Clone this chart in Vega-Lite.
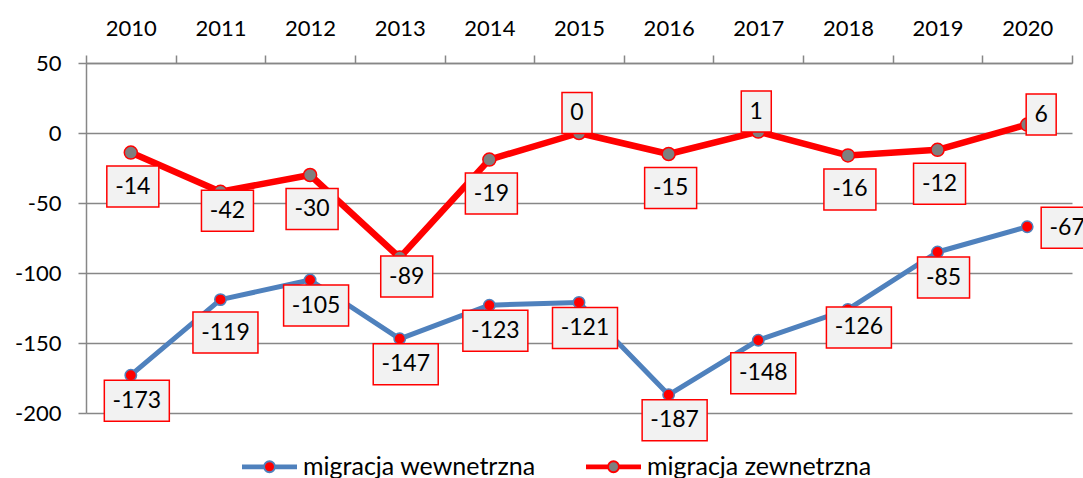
{
  "$schema": "https://vega.github.io/schema/vega-lite/v6.json",
  "autosize": {"type": "none"},
  "padding": {"left": 86, "top": 63, "right": 11, "bottom": 65},
  "width": 986,
  "height": 350,
  "config": {
    "view": {"stroke": null},
    "font": "Lato",
    "axis": {"labelFont": "Lato", "labelColor": "#000000", "labelFontSize": 22, "domainColor": "#878787", "tickColor": "#878787", "gridColor": "#878787", "domainWidth": 1.5, "tickWidth": 1.5, "gridWidth": 1.3, "tickSize": 8}
  },
  "data": {"values": [
    {"year": "2010", "s": "migracja wewnetrzna", "v": -173},
    {"year": "2011", "s": "migracja wewnetrzna", "v": -119},
    {"year": "2012", "s": "migracja wewnetrzna", "v": -105},
    {"year": "2013", "s": "migracja wewnetrzna", "v": -147},
    {"year": "2014", "s": "migracja wewnetrzna", "v": -123},
    {"year": "2015", "s": "migracja wewnetrzna", "v": -121},
    {"year": "2016", "s": "migracja wewnetrzna", "v": -187},
    {"year": "2017", "s": "migracja wewnetrzna", "v": -148},
    {"year": "2018", "s": "migracja wewnetrzna", "v": -126},
    {"year": "2019", "s": "migracja wewnetrzna", "v": -85},
    {"year": "2020", "s": "migracja wewnetrzna", "v": -67},
    {"year": "2010", "s": "migracja zewnetrzna", "v": -14},
    {"year": "2011", "s": "migracja zewnetrzna", "v": -42},
    {"year": "2012", "s": "migracja zewnetrzna", "v": -30},
    {"year": "2013", "s": "migracja zewnetrzna", "v": -89},
    {"year": "2014", "s": "migracja zewnetrzna", "v": -19},
    {"year": "2015", "s": "migracja zewnetrzna", "v": 0},
    {"year": "2016", "s": "migracja zewnetrzna", "v": -15},
    {"year": "2017", "s": "migracja zewnetrzna", "v": 1},
    {"year": "2018", "s": "migracja zewnetrzna", "v": -16},
    {"year": "2019", "s": "migracja zewnetrzna", "v": -12},
    {"year": "2020", "s": "migracja zewnetrzna", "v": 6}
  ]},
  "encoding": {
    "x": {"field": "year", "type": "ordinal", "bandPosition": 0.5,
      "scale": {"type": "band", "paddingInner": 0, "paddingOuter": 0},
      "axis": {"orient": "top", "title": null, "labelAngle": 0, "tickBand": "extent", "grid": false, "labelPadding": 15}},
    "y": {"field": "v", "type": "quantitative",
      "scale": {"domain": [-200, 50], "nice": false, "zero": false},
      "axis": {"title": null, "values": [-200, -150, -100, -50, 0, 50], "grid": true, "labelPadding": 17, "labelExpr": "'' + datum.value"}}
  },
  "layer": [
    {
      "mark": {"type": "line", "strokeJoin": "round"},
      "encoding": {
        "stroke": {"field": "s", "type": "nominal",
          "scale": {"domain": ["migracja wewnetrzna", "migracja zewnetrzna"], "range": ["#4f81bd", "#ff0000"]},
          "legend": {"title": null, "orient": "none", "legendX": 155, "legendY": 375, "direction": "horizontal",
            "symbolType": "M-1,-0.05L-0.2,-0.05M-1,0L-0.2,0M-1,0.05L-0.2,0.05M0.2,-0.05L1,-0.05M0.2,0L1,0M0.2,0.05L1,0.05M-0.2,0A0.2,0.2,0,1,0,0.2,0A0.2,0.2,0,1,0,-0.2,0Z",
            "symbolSize": 3025, "symbolStrokeWidth": 2, "labelFontSize": 25, "labelFont": "Lato", "labelColor": "#000000", "labelLimit": 400, "labelOffset": 5, "columnPadding": 46, "padding": 0}},
        "strokeWidth": {"condition": {"test": "datum.s == 'migracja zewnetrzna'", "value": 6.5}, "value": 5}
      }
    },
    {
      "mark": {"type": "point", "filled": true, "shape": "circle", "strokeWidth": 1.5, "opacity": 1},
      "encoding": {
        "fill": {"field": "s", "type": "nominal",
          "scale": {"domain": ["migracja wewnetrzna", "migracja zewnetrzna"], "range": ["#ff0000", "#7f7f7f"]},
          "legend": {"title": null, "orient": "none", "legendX": 155, "legendY": 375, "direction": "horizontal",
            "symbolType": "M-1,-0.05L-0.2,-0.05M-1,0L-0.2,0M-1,0.05L-0.2,0.05M0.2,-0.05L1,-0.05M0.2,0L1,0M0.2,0.05L1,0.05M-0.2,0A0.2,0.2,0,1,0,0.2,0A0.2,0.2,0,1,0,-0.2,0Z",
            "symbolSize": 3025, "symbolStrokeWidth": 2, "labelFontSize": 25, "labelFont": "Lato", "labelColor": "#000000", "labelLimit": 400, "labelOffset": 5, "columnPadding": 46, "padding": 0}},
        "stroke": {"field": "s", "type": "nominal"},
        "size": {"condition": {"test": "datum.s == 'migracja zewnetrzna'", "value": 170}, "value": 130}
      }
    },
    {
      "transform": [{"filter": "datum.s == 'migracja wewnetrzna' && datum.year != '2020' && datum.v != -119 && datum.v != -148 && datum.v != -126"}],
      "mark": {"type": "point", "filled": true, "fill": "#f2f2f2", "stroke": "#ff0000", "strokeWidth": 1.5, "opacity": 1, "xOffset": 6, "yOffset": 25.5},
      "encoding": {
        "shape": {"condition": [{"test": "datum.v <= -100", "value": "M-1,-0.631L1,-0.631L1,0.631L-1,0.631Z"}, {"test": "datum.v >= 0", "value": "M-1,-1.367L1,-1.367L1,1.367L-1,1.367Z"}], "value": "M-1,-0.788L1,-0.788L1,0.788L-1,0.788Z"},
        "size": {"condition": [{"test": "datum.v <= -100", "value": 4225}, {"test": "datum.v >= 0", "value": 900}], "value": 2704}
      }
    },
    {
      "transform": [{"filter": "datum.s == 'migracja wewnetrzna' && datum.year != '2020' && datum.v != -119 && datum.v != -148 && datum.v != -126"}],
      "mark": {"type": "text", "align": "center", "baseline": "middle", "fontSize": 23, "font": "Lato", "color": "#000000", "xOffset": 6, "yOffset": 25.5},
      "encoding": {"text": {"field": "v", "type": "nominal"}}
    },
    {
      "transform": [{"filter": "datum.s == 'migracja wewnetrzna' && (datum.v == -119 || datum.v == -148)"}],
      "mark": {"type": "point", "filled": true, "fill": "#f2f2f2", "stroke": "#ff0000", "strokeWidth": 1.5, "opacity": 1, "xOffset": 5, "yOffset": 33},
      "encoding": {
        "shape": {"condition": [{"test": "datum.v <= -100", "value": "M-1,-0.631L1,-0.631L1,0.631L-1,0.631Z"}, {"test": "datum.v >= 0", "value": "M-1,-1.367L1,-1.367L1,1.367L-1,1.367Z"}], "value": "M-1,-0.788L1,-0.788L1,0.788L-1,0.788Z"},
        "size": {"condition": [{"test": "datum.v <= -100", "value": 4225}, {"test": "datum.v >= 0", "value": 900}], "value": 2704}
      }
    },
    {
      "transform": [{"filter": "datum.s == 'migracja wewnetrzna' && (datum.v == -119 || datum.v == -148)"}],
      "mark": {"type": "text", "align": "center", "baseline": "middle", "fontSize": 23, "font": "Lato", "color": "#000000", "xOffset": 5, "yOffset": 33},
      "encoding": {"text": {"field": "v", "type": "nominal"}}
    },
    {
      "transform": [{"filter": "datum.s == 'migracja wewnetrzna' && datum.v == -126"}],
      "mark": {"type": "point", "filled": true, "fill": "#f2f2f2", "stroke": "#ff0000", "strokeWidth": 1.5, "opacity": 1, "xOffset": 11, "yOffset": 18},
      "encoding": {
        "shape": {"condition": [{"test": "datum.v <= -100", "value": "M-1,-0.631L1,-0.631L1,0.631L-1,0.631Z"}, {"test": "datum.v >= 0", "value": "M-1,-1.367L1,-1.367L1,1.367L-1,1.367Z"}], "value": "M-1,-0.788L1,-0.788L1,0.788L-1,0.788Z"},
        "size": {"condition": [{"test": "datum.v <= -100", "value": 4225}, {"test": "datum.v >= 0", "value": 900}], "value": 2704}
      }
    },
    {
      "transform": [{"filter": "datum.s == 'migracja wewnetrzna' && datum.v == -126"}],
      "mark": {"type": "text", "align": "center", "baseline": "middle", "fontSize": 23, "font": "Lato", "color": "#000000", "xOffset": 11, "yOffset": 18},
      "encoding": {"text": {"field": "v", "type": "nominal"}}
    },
    {
      "transform": [{"filter": "datum.s == 'migracja wewnetrzna' && datum.year == '2020'"}],
      "mark": {"type": "point", "filled": true, "fill": "#f2f2f2", "stroke": "#ff0000", "strokeWidth": 1.5, "opacity": 1, "xOffset": 40, "yOffset": 1},
      "encoding": {
        "shape": {"condition": [{"test": "datum.v <= -100", "value": "M-1,-0.631L1,-0.631L1,0.631L-1,0.631Z"}, {"test": "datum.v >= 0", "value": "M-1,-1.367L1,-1.367L1,1.367L-1,1.367Z"}], "value": "M-1,-0.788L1,-0.788L1,0.788L-1,0.788Z"},
        "size": {"condition": [{"test": "datum.v <= -100", "value": 4225}, {"test": "datum.v >= 0", "value": 900}], "value": 2704}
      }
    },
    {
      "transform": [{"filter": "datum.s == 'migracja wewnetrzna' && datum.year == '2020'"}],
      "mark": {"type": "text", "align": "center", "baseline": "middle", "fontSize": 23, "font": "Lato", "color": "#000000", "xOffset": 40, "yOffset": 1},
      "encoding": {"text": {"field": "v", "type": "nominal"}}
    },
    {
      "transform": [{"filter": "datum.s == 'migracja zewnetrzna' && datum.v < 0 && datum.v != -42 && datum.v != -89"}],
      "mark": {"type": "point", "filled": true, "fill": "#f2f2f2", "stroke": "#ff0000", "strokeWidth": 1.5, "opacity": 1, "xOffset": 2, "yOffset": 34},
      "encoding": {
        "shape": {"condition": [{"test": "datum.v <= -100", "value": "M-1,-0.631L1,-0.631L1,0.631L-1,0.631Z"}, {"test": "datum.v >= 0", "value": "M-1,-1.367L1,-1.367L1,1.367L-1,1.367Z"}], "value": "M-1,-0.788L1,-0.788L1,0.788L-1,0.788Z"},
        "size": {"condition": [{"test": "datum.v <= -100", "value": 4225}, {"test": "datum.v >= 0", "value": 900}], "value": 2704}
      }
    },
    {
      "transform": [{"filter": "datum.s == 'migracja zewnetrzna' && datum.v < 0 && datum.v != -42 && datum.v != -89"}],
      "mark": {"type": "text", "align": "center", "baseline": "middle", "fontSize": 23, "font": "Lato", "color": "#000000", "xOffset": 2, "yOffset": 34},
      "encoding": {"text": {"field": "v", "type": "nominal"}}
    },
    {
      "transform": [{"filter": "datum.s == 'migracja zewnetrzna' && (datum.v == -42 || datum.v == -89)"}],
      "mark": {"type": "point", "filled": true, "fill": "#f2f2f2", "stroke": "#ff0000", "strokeWidth": 1.5, "opacity": 1, "xOffset": 7, "yOffset": 19},
      "encoding": {
        "shape": {"condition": [{"test": "datum.v <= -100", "value": "M-1,-0.631L1,-0.631L1,0.631L-1,0.631Z"}, {"test": "datum.v >= 0", "value": "M-1,-1.367L1,-1.367L1,1.367L-1,1.367Z"}], "value": "M-1,-0.788L1,-0.788L1,0.788L-1,0.788Z"},
        "size": {"condition": [{"test": "datum.v <= -100", "value": 4225}, {"test": "datum.v >= 0", "value": 900}], "value": 2704}
      }
    },
    {
      "transform": [{"filter": "datum.s == 'migracja zewnetrzna' && (datum.v == -42 || datum.v == -89)"}],
      "mark": {"type": "text", "align": "center", "baseline": "middle", "fontSize": 23, "font": "Lato", "color": "#000000", "xOffset": 7, "yOffset": 19},
      "encoding": {"text": {"field": "v", "type": "nominal"}}
    },
    {
      "transform": [{"filter": "datum.s == 'migracja zewnetrzna' && datum.v >= 0 && datum.year != '2020'"}],
      "mark": {"type": "point", "filled": true, "fill": "#f2f2f2", "stroke": "#ff0000", "strokeWidth": 1.5, "opacity": 1, "xOffset": -2, "yOffset": -20},
      "encoding": {
        "shape": {"condition": [{"test": "datum.v <= -100", "value": "M-1,-0.631L1,-0.631L1,0.631L-1,0.631Z"}, {"test": "datum.v >= 0", "value": "M-1,-1.367L1,-1.367L1,1.367L-1,1.367Z"}], "value": "M-1,-0.788L1,-0.788L1,0.788L-1,0.788Z"},
        "size": {"condition": [{"test": "datum.v <= -100", "value": 4225}, {"test": "datum.v >= 0", "value": 900}], "value": 2704}
      }
    },
    {
      "transform": [{"filter": "datum.s == 'migracja zewnetrzna' && datum.v >= 0 && datum.year != '2020'"}],
      "mark": {"type": "text", "align": "center", "baseline": "middle", "fontSize": 23, "font": "Lato", "color": "#000000", "xOffset": -2, "yOffset": -20},
      "encoding": {"text": {"field": "v", "type": "nominal"}}
    },
    {
      "transform": [{"filter": "datum.s == 'migracja zewnetrzna' && datum.year == '2020'"}],
      "mark": {"type": "point", "filled": true, "fill": "#f2f2f2", "stroke": "#ff0000", "strokeWidth": 1.5, "opacity": 1, "xOffset": 14, "yOffset": -10},
      "encoding": {
        "shape": {"condition": [{"test": "datum.v <= -100", "value": "M-1,-0.631L1,-0.631L1,0.631L-1,0.631Z"}, {"test": "datum.v >= 0", "value": "M-1,-1.367L1,-1.367L1,1.367L-1,1.367Z"}], "value": "M-1,-0.788L1,-0.788L1,0.788L-1,0.788Z"},
        "size": {"condition": [{"test": "datum.v <= -100", "value": 4225}, {"test": "datum.v >= 0", "value": 900}], "value": 2704}
      }
    },
    {
      "transform": [{"filter": "datum.s == 'migracja zewnetrzna' && datum.year == '2020'"}],
      "mark": {"type": "text", "align": "center", "baseline": "middle", "fontSize": 23, "font": "Lato", "color": "#000000", "xOffset": 14, "yOffset": -10},
      "encoding": {"text": {"field": "v", "type": "nominal"}}
    }
  ]
}
